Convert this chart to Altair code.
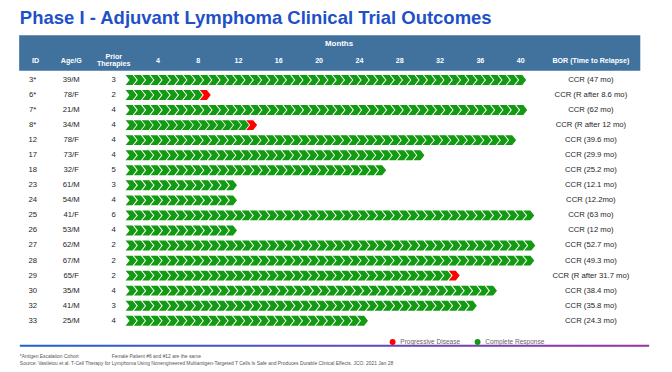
import altair as alt
import pandas as pd

# ---------------- data ----------------
ids = ["3*", "6*", "7*", "8*", "12", "17", "18", "23", "24", "25", "26", "27", "28", "29", "30", "32", "33"]
ages = ["39/M", "78/F", "21/M", "34/M", "78/F", "73/F", "32/F", "61/M", "54/M", "41/F", "53/M",
        "62/M", "67/M", "65/F", "35/M", "41/M", "25/M"]
prior = [3, 2, 4, 4, 4, 4, 5, 3, 4, 6, 4, 2, 2, 2, 4, 3, 4]
bor = ["CCR (47 mo)", "CCR (R after 8.6 mo)", "CCR (62 mo)", "CCR (R after 12 mo)", "CCR (39.6 mo)",
       "CCR (29.9 mo)", "CCR (25.2 mo)", "CCR (12.1 mo)", "CCR (12.2mo)", "CCR (63 mo)", "CCR (12 mo)",
       "CCR (52.7 mo)", "CCR (49.3 mo)", "CCR (R after 31.7 mo)", "CCR (38.4 mo)", "CCR (35.8 mo)",
       "CCR (24.3 mo)"]
# drawn length of each chevron bar (months, as read from the graphic)
bar_end = [40.6, 9.3, 40.7, 13.9, 39.6, 30.5, 26.7, 11.9, 11.9, 41.4, 11.9, 41.5, 41.4, 34.0, 37.7, 35.7, 24.9]
relapsed = [False, True, False, True, False, False, False, False, False, False, False,
            False, False, True, False, False, False]
month_ticks = [4, 8, 12, 16, 20, 24, 28, 32, 36, 40]
status_names = ["Progressive Disease", "Complete Response"]
status_colors = ["#FF0000", "#129A12"]

FONT = "Liberation Sans"
X_DOMAIN = [-9.647, 51.92]
CHEV_START = 1.39      # centre of the first chevron, months
CHEV_STEP = 0.824      # chevron pitch, months
TIP = 0.544            # centre-to-tip distance of a chevron, months

chev_rows = []
for i, pid in enumerate(ids):
    last = bar_end[i] - TIP
    n = int(round((last - CHEV_START) / CHEV_STEP)) + 1
    step = (last - CHEV_START) / (n - 1)
    for k in range(n):
        st = status_names[0] if (relapsed[i] and k == n - 1) else status_names[1]
        chev_rows.append({"id": pid, "m": CHEV_START + k * step, "status": st})
chev_df = pd.DataFrame(chev_rows)
table_df = pd.DataFrame({"id": ids, "age": ages, "prior": prior, "bor": bor})
one = pd.DataFrame({"t": [0]})

CHEVRON = "M-1.11,-1 L0.31,-1 L1.11,0 L0.31,1 L-1.11,1 L-0.31,0 Z"

yenc = alt.Y("id:N", sort=ids, axis=None)

header = alt.Chart(one).mark_rect(color="#41729E").encode(
    x=alt.value(-0.7), x2=alt.value(628), y=alt.value(-37.7), y2=alt.value(-1.7))

chevrons = alt.Chart(chev_df).mark_point(
    shape=CHEVRON, filled=True, size=100, opacity=1, strokeWidth=0
).encode(
    x=alt.X("m:Q", scale=alt.Scale(domain=X_DOMAIN, nice=False, zero=False),
            axis=alt.Axis(orient="top", values=month_ticks, format="d", title="Months",
                          titleColor="white", titleFontSize=8, titleFontWeight="bold", titleFont=FONT,
                          titleX=322.6, titleY=-29, titleBaseline="middle", titleAlign="center",
                          labelColor="white", labelFontSize=7.2, labelFontWeight="bold", labelFont=FONT,
                          labelBaseline="middle", labelPadding=12, ticks=False, tickSize=0,
                          domain=False, grid=False, labelFlush=False, labelOverlap=False, zindex=2)),
    y=yenc,
    color=alt.Color("status:N", scale=alt.Scale(domain=status_names, range=status_colors),
                    legend=alt.Legend(orient="none", legendX=374, legendY=269.5, direction="horizontal",
                                      title=None, symbolType="circle", symbolSize=36,
                                      symbolStrokeWidth=0, labelFontSize=6.6, labelColor="#666666",
                                      labelFont=FONT, columnPadding=14, labelOffset=4.5, padding=0)),
)


def col_text(field, xpos):
    return alt.Chart(table_df).mark_text(
        font=FONT, fontSize=7.8, color="#262626", align="center", baseline="middle"
    ).encode(x=alt.value(xpos), y=yenc, text=f"{field}:N")


def fixed_text(label, xpos, ypos, size=7.2, weight="bold", color="white", align="center",
               baseline="middle"):
    return alt.Chart(pd.DataFrame({"label": [label]})).mark_text(
        font=FONT, fontSize=size, fontWeight=weight, color=color, align=align, baseline=baseline
    ).encode(x=alt.value(xpos), y=alt.value(ypos), text="label:N")


title = fixed_text("Phase I - Adjuvant Lymphoma Clinical Trial Outcomes", 0, -49, size=18.7,
                   color="#1E50C8", align="left", baseline="alphabetic")

gradient_line = alt.Chart(one).mark_rect(
    color=alt.Gradient(gradient="linear",
                       stops=[alt.GradientStop(color="#1F5FD2", offset=0),
                              alt.GradientStop(color="#5A4BC0", offset=0.5),
                              alt.GradientStop(color="#9B30A2", offset=1)],
                       x1=0, x2=1, y1=0, y2=0)
).encode(x=alt.value(0), x2=alt.value(637), y=alt.value(275.6), y2=alt.value(277.6))

layers = [
    header,
    chevrons,
    col_text("id", 13), col_text("age", 52), col_text("prior", 95), col_text("bor", 578),
    fixed_text("ID", 16, -12), fixed_text("Age/G", 52, -12),
    fixed_text("Prior", 95, -16), fixed_text("Therapies", 95, -8),
    fixed_text("BOR (Time to Relapse)", 578, -12),
    title,
    gradient_line,
    fixed_text("*Antigen Escalation Cohort", 0, 287.5, size=5, weight="normal", color="#555555", align="left"),
    fixed_text("Female Patient #6 and #12 are the same", 93, 287.5, size=5, weight="normal",
               color="#555555", align="left"),
    fixed_text("Source: Vasileiou et al. T-Cell Therapy for Lymphoma Using Nonengineered Multiantigen-Targeted "
               "T Cells Is Safe and Produces Durable Clinical Effects. JCO. 2021 Jan 28",
               0, 294, size=5, weight="normal", color="#555555", align="left"),
]

chart = alt.layer(*layers).properties(
    width=628, height=259,
    padding={"left": 12, "top": 63, "right": 24, "bottom": 40},
    autosize=alt.AutoSizeParams(type="none"),
    background="white",
).configure_view(strokeWidth=0)

chart.save("out.html", embed_options={"renderer": "svg", "actions": False})
